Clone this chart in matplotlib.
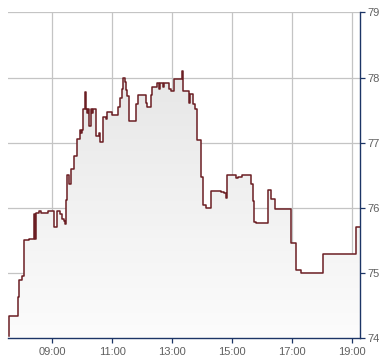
import matplotlib
matplotlib.use("Agg")
import matplotlib.pyplot as plt
import numpy as np
from matplotlib.ticker import FixedLocator

# step series: time in hours, price
hours = [7.55, 7.57, 7.84, 7.90, 8.00, 8.07, 8.23, 8.40, 8.43, 8.46,
         8.57, 8.61, 8.84, 9.07, 9.17, 9.27, 9.31, 9.38, 9.42, 9.47,
         9.49, 9.57, 9.62, 9.73, 9.81, 9.92, 9.96, 10.00, 10.02, 10.09,
         10.135, 10.157, 10.18, 10.21, 10.29, 10.33, 10.37, 10.446, 10.557, 10.60,
         10.69, 10.78, 10.81, 11.00, 11.20, 11.27, 11.31, 11.37, 11.42, 11.446,
         11.48, 11.57, 11.79, 11.84, 12.11, 12.17, 12.29,
         12.32, 12.49, 12.56, 12.59, 12.68, 12.71, 12.81, 12.90, 12.94, 13.07,
         13.33, 13.37, 13.57, 13.59, 13.70, 13.76, 13.83, 13.96, 14.03, 14.14,
         14.30, 14.63, 14.72, 14.78, 14.84, 15.14, 15.20, 15.33, 15.61, 15.64,
         15.68, 15.74, 15.78, 16.20, 16.30, 16.42, 16.97, 17.11, 17.28, 18.03,
         19.13, 19.27]
prices = [74.03, 74.34, 74.63, 74.89, 74.96, 75.51, 75.53, 75.91, 75.53, 75.92,
          75.95, 75.92, 75.95, 75.71, 75.96, 75.90, 75.83, 75.80, 75.76, 76.12,
          76.50, 76.37, 76.60, 76.79, 77.05, 77.19, 77.15, 77.19, 77.51, 77.77,
          77.51, 77.45, 77.51, 77.25, 77.51, 77.45, 77.51, 77.10, 77.15, 77.01,
          77.40, 77.36, 77.47, 77.42, 77.55, 77.68, 77.83, 78.00, 77.93, 77.81,
          77.71, 77.33, 77.60, 77.73, 77.61, 77.55, 77.73,
          77.86, 77.92, 77.83, 77.92, 77.86, 77.92, 77.91, 77.82, 77.79, 77.98,
          78.10, 77.79, 77.61, 77.74, 77.60, 77.52, 77.04, 76.47, 76.05, 76.00,
          76.26, 76.24, 76.23, 76.15, 76.51, 76.46, 76.48, 76.51, 76.45, 76.37,
          76.10, 75.79, 75.77, 76.28, 76.13, 75.98, 75.46, 75.05, 75.00, 75.30,
          75.71, 75.71]

x_ticks = [9, 11, 13, 15, 17, 19]
x_labels = ["09:00", "11:00", "13:00", "15:00", "17:00", "19:00"]
y_ticks = [74, 75, 76, 77, 78, 79]

x0, x1 = 7.533, 19.267
y0, y1 = 74, 79

plt.rcParams['font.family'] = ['Liberation Sans', 'DejaVu Sans']

fig = plt.figure(figsize=(3.9, 3.64), dpi=100)
ax = fig.add_axes([8.3 / 390, 25.7 / 364, 352 / 390, 326 / 364])

# gradient under the line
grad = np.linspace(0, 1, 256).reshape(-1, 1)
img = ax.imshow(grad, extent=[x0, x1, y0, 78.2], origin='upper', aspect='auto',
                cmap=matplotlib.colors.LinearSegmentedColormap.from_list(
                    'g', ['#e6e6e6', '#fcfcfc']), zorder=1)
poly = ax.fill_between(hours, prices, y0, step='post', color='none', lw=0)
img.set_clip_path(poly.get_paths()[0], transform=ax.transData)

ax.step(hours, prices, where='post', color='#6b1e23', lw=1.1, zorder=3)

ax.set_xlim(x0, x1)
ax.set_ylim(y0, y1)

ax.xaxis.set_major_locator(FixedLocator(x_ticks))
ax.set_xticklabels(x_labels)
ax.yaxis.set_major_locator(FixedLocator(y_ticks))
ax.yaxis.tick_right()

ax.grid(True, color='#c4c4c4', lw=0.9, zorder=0)
ax.set_axisbelow(True)

navy = '#1c3566'
for s in ['top', 'left']:
    ax.spines[s].set_visible(False)
for s in ['bottom', 'right']:
    ax.spines[s].set_color(navy)
    ax.spines[s].set_linewidth(1.0)
ax.tick_params(axis='both', colors=navy, labelcolor='#606060', labelsize=8,
               length=3.5, width=0.9, pad=1.5)
ax.tick_params(axis='x', pad=3)

fig.savefig('out.png', dpi=100)
